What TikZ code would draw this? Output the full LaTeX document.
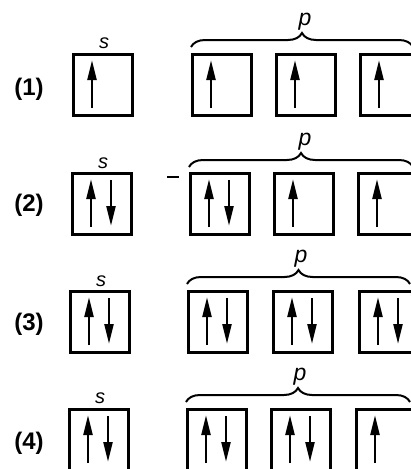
\documentclass[tikz,border=0pt]{standalone}
\usepackage{fontspec}
\setmainfont{Liberation Sans}
\usetikzlibrary{arrows.meta,decorations.pathreplacing,calc}
% electron spin arrows inside an orbital box (offsets from the box corner)
\newcommand\eup[1]{\draw[spinup] ($(#1.north west)+(18.5,53.5)$) -- ($(#1.north west)+(18.5,5.5)$);}
\newcommand\edown[1]{\draw[spinup] ($(#1.north west)+(38.5,6.5)$) -- ($(#1.north west)+(38.5,52.5)$);}
\begin{document}
\begin{tikzpicture}[x=1pt,y=-1pt,
  orb/.style={draw, line width=3pt, minimum width=59pt, minimum height=61pt,
              inner sep=0pt, outer sep=0pt, anchor=north west},
  spinup/.style={line width=2.4pt, -{Triangle[length=20pt,width=9pt]}},
  pbrace/.style={line width=2pt, decorate, decoration={brace, amplitude=14pt}},
  rowlbl/.style={font=\bfseries\fontsize{24}{28}\selectfont, inner sep=0pt},
  slbl/.style={font=\itshape\fontsize{20}{24}\selectfont, anchor=base, inner sep=0pt},
  plbl/.style={font=\itshape\fontsize{23}{27}\selectfont, anchor=base, inner sep=0pt}]
\useasboundingbox (0,0) rectangle (411,469);
\clip (0,0) rectangle (411,469);

% ---- row (1): s^1 p^3 ----
\node[rowlbl] (r1) at (29,89) {(1)};
\node[orb] (s1) at (73.5,54.5) {};
\node[orb] (p11) at (192.5,54.5) {};
\node[orb] (p12) at (276.5,54.5) {};
\node[orb] (p13) at (360.5,54.5) {};
\node[slbl] (sl1) at (104,48.5) {s};
\coordinate (b1l) at (191,47);
\coordinate (b1r) at (413,47);
\draw[pbrace] (b1l) -- (b1r);
\node[plbl] (pl1) at (305,25) {p};
\eup{s1}
\eup{p11} \eup{p12} \eup{p13}

% ---- row (2): s^2 p^4 ----
\node[rowlbl] (r2) at (29,205) {(2)};
\node[orb] (s2) at (72.5,173.5) {};
\node[orb] (p21) at (190.5,173.5) {};
\node[orb] (p22) at (274.5,173.5) {};
\node[orb] (p23) at (358.5,173.5) {};
\node[slbl] (sl2) at (103,168) {s};
\coordinate (b2l) at (189,167);
\coordinate (b2r) at (413,167);
\draw[pbrace] (b2l) -- (b2r);
\node[plbl] (pl2) at (305,145) {p};
\coordinate (d2a) at (167,177);
\coordinate (d2b) at (179,177);
\draw[line width=1.2pt] (d2a) -- (d2b);
\eup{s2} \edown{s2}
\eup{p21} \edown{p21}
\eup{p22} \eup{p23}

% ---- row (3): s^2 p^6 ----
\node[rowlbl] (r3) at (29,324) {(3)};
\node[orb] (s3) at (70.5,291.5) {};
\node[orb] (p31) at (188.5,291.5) {};
\node[orb] (p32) at (273.5,291.5) {};
\node[orb] (p33) at (359.5,291.5) {};
\node[slbl] (sl3) at (101,286) {s};
\coordinate (b3l) at (187,284);
\coordinate (b3r) at (410,284);
\draw[pbrace] (b3l) -- (b3r);
\node[plbl] (pl3) at (301,262) {p};
\eup{s3} \edown{s3}
\eup{p31} \edown{p31}
\eup{p32} \edown{p32}
\eup{p33} \edown{p33}

% ---- row (4): s^2 p^5 ----
\node[rowlbl] (r4) at (29,443) {(4)};
\node[orb] (s4) at (69.5,409.5) {};
\node[orb] (p41) at (187.5,409.5) {};
\node[orb] (p42) at (271.5,409.5) {};
\node[orb] (p43) at (356.5,409.5) {};
\node[slbl] (sl4) at (100,403) {s};
\coordinate (b4l) at (186,402);
\coordinate (b4r) at (410,402);
\draw[pbrace] (b4l) -- (b4r);
\node[plbl] (pl4) at (300,380) {p};
\eup{s4} \edown{s4}
\eup{p41} \edown{p41}
\eup{p42} \edown{p42}
\eup{p43}
\end{tikzpicture}
\end{document}
